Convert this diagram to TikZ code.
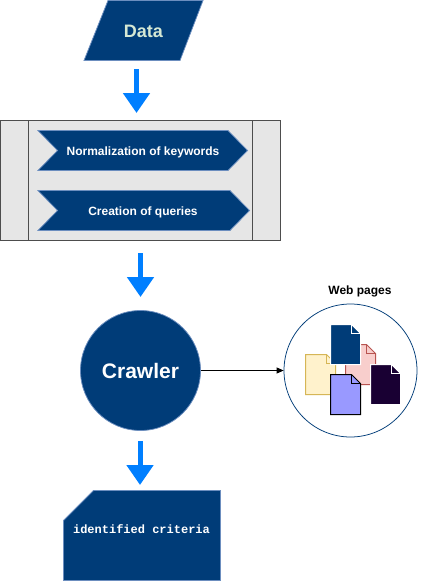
\documentclass[tikz,border=0pt]{standalone}
\usepackage{fontspec}
\setmainfont{Liberation Sans}
\newfontfamily\monof{Liberation Mono}
\usetikzlibrary{arrows.meta,shapes.geometric,calc}
\definecolor{navy}{HTML}{003C78}
\definecolor{edgeblue}{HTML}{6C8EBF}
\definecolor{arrowblue}{HTML}{007FFF}
\definecolor{panelfill}{HTML}{E6E6E6}
\definecolor{panelline}{HTML}{4D4D4D}
\definecolor{datatext}{HTML}{D5E8D4}
\definecolor{yfill}{HTML}{FFF2CC}
\definecolor{yline}{HTML}{D6B656}
\definecolor{pfill}{HTML}{F8CECC}
\definecolor{pline}{HTML}{B85450}
\definecolor{vfill}{HTML}{9999FF}
\definecolor{darkdoc}{HTML}{190033}
\tikzset{
  navyshape/.style={fill=navy,draw=edgeblue,line width=0.75pt},
  bigarrow/.style={draw=arrowblue,line width=5pt,-{Triangle[width=26pt,length=20pt,color=arrowblue]}},
  panelstroke/.style={draw=panelline,line width=1pt},
  steplabel/.style={text=white,font=\bfseries\fontsize{12}{14}\selectfont,inner sep=0pt},
  docshape/.style={line width=1pt,line join=miter},
}
% #1 x, #2 y (top-left), #3 fill, #4 line
\newcommand{\docpage}[4]{%
  \fill[#3] (#1,#2) -- ++(21,0) -- ++(9,9) -- ++(0,31) -- ++(-30,0) -- cycle;
  \draw[docshape,draw=#4] (#1,#2) -- ++(21,0) -- ++(9,9) -- ++(0,31) -- ++(-30,0) -- cycle;
  \draw[docshape,draw=#4] ($(#1,#2)+(21,0)$) -- ++(0,9) -- ++(9,0);
}
\begin{document}
\begin{tikzpicture}[x=1pt,y=-1pt]
\useasboundingbox (0,0) rectangle (446,581);
% data
\fill[navyshape] (108,0.5) -- (203,0.5) -- (180,60.5) -- (84,60.5) -- cycle;
\node[text=datatext,font=\bfseries\fontsize{18}{20}\selectfont,inner sep=0pt] (data) at (143.5,31) {Data};
% panel
\draw[panelstroke,fill=panelfill] (0.5,120.5) rectangle (280.5,240.2);
\draw[panelstroke] (28.5,120.5) -- (28.5,240.2);
\draw[panelstroke] (252.5,120.5) -- (252.5,240.2);
% steps
\fill[navyshape] (38,130.5) -- (228,130.5) -- (247.5,150.5) -- (228,170.5) -- (38,170.5) -- (57.5,150.5) -- cycle;
\node[steplabel] (norm) at (143,152.2) {Normalization of keywords};
\fill[navyshape] (38,190.5) -- (230,190.5) -- (249.5,210.5) -- (230,230.5) -- (38,230.5) -- (57.5,210.5) -- cycle;
\node[steplabel] (query) at (143,212.2) {Creation of queries};
% crawler
\node[circle,navyshape,minimum size=120pt,inner sep=0pt,text=white,font=\bfseries\fontsize{21}{24}\selectfont] (crawler) at (140.5,370.5) {\raisebox{-1pt}{Crawler}};
% web pages
\node[circle,draw=navy,fill=white,line width=0.75pt,minimum size=133pt,inner sep=0pt] (web) at (350.5,370.5) {};
\node[text=black,font=\bfseries\fontsize{12}{14}\selectfont,inner sep=0pt] (weblabel) at (360,291.7) {Web pages};
\docpage{305.5}{354.5}{yfill}{yline}
\docpage{345.5}{344.5}{pfill}{pline}
\docpage{330.5}{324.5}{navy}{white}
\docpage{330.5}{374.5}{vfill}{black}
\docpage{370.5}{364.5}{darkdoc}{white}
% card
\fill[navyshape] (93.5,490.5) -- (220.5,490.5) -- (220.5,580.5) -- (63.5,580.5) -- (63.5,520.5) -- cycle;
\node[text=white,font=\monof\bfseries\fontsize{12}{14}\selectfont,inner sep=0pt] (card) at (141.5,529) {identified criteria};
% connectors
\coordinate (a1s) at (136.5,69);
\coordinate (a1e) at (136.5,113);
\coordinate (a2s) at (140.5,253);
\coordinate (a2e) at (140.5,297);
\coordinate (a3s) at (140,441);
\coordinate (a3e) at (140,485);
\draw[bigarrow] (a1s) -- (a1e);
\draw[bigarrow] (a2s) -- (a2e);
\draw[bigarrow] (a3s) -- (a3e);
\draw[black,line width=0.75pt,-{Triangle[width=6pt,length=7pt]}] (crawler.east) -- (web.west);
\end{tikzpicture}
\end{document}
